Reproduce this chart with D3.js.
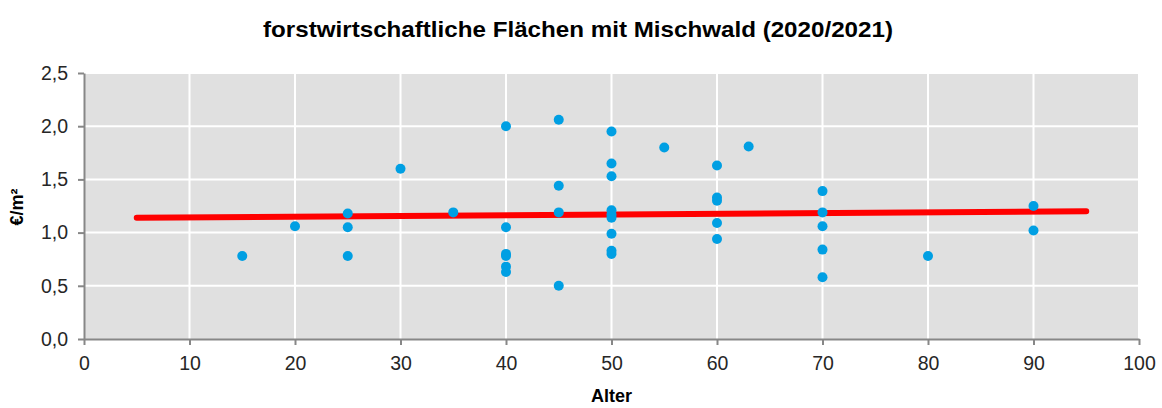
<!DOCTYPE html>
<html>
<head>
<meta charset="utf-8">
<script src="https://cdn.jsdelivr.net/npm/d3@7"></script>
<style>
  body { margin: 0; background: #fff; }
  text { font-family: "Liberation Sans", Arial, sans-serif; }
</style>
</head>
<body>
<div id="chart"></div>
<script>
// Scatter data: age (Alter) and price (€/m²)
var ageValues = [15, 20, 25, 25, 25, 30, 35,
                 40, 40, 40, 40, 40, 40,
                 45, 45, 45, 45,
                 50, 50, 50, 50, 50, 50, 50, 50, 50,
                 55, 60, 60, 60, 60, 60, 63,
                 70, 70, 70, 70, 70, 80, 90, 90];
var priceValues = [0.78, 1.06, 1.18, 1.05, 0.78, 1.60, 1.19,
                   2.00, 1.05, 0.80, 0.78, 0.68, 0.63,
                   2.06, 1.44, 1.19, 0.50,
                   1.95, 1.65, 1.53, 1.21, 1.17, 1.14, 0.99, 0.83, 0.80,
                   1.80, 1.63, 1.33, 1.30, 1.09, 0.94, 1.81,
                   1.39, 1.19, 1.06, 0.84, 0.58, 0.78, 1.25, 1.02];

// Trend line end points
var trendAge = [5, 95];
var trendPrice = [1.14, 1.20];

// Tick labels
var xTicks = [0, 10, 20, 30, 40, 50, 60, 70, 80, 90, 100];
var yTicks = [0, 0.5, 1.0, 1.5, 2.0, 2.5];

function init() {
    var w = 1162;
    var h = 408;
    var left = 84, right = 1139, top = 73, bottom = 339;

    var dataset = ageValues.map(function(a, i) { return { x: a, y: priceValues[i] }; });
    var trend = trendAge.map(function(a, i) { return { x: a, y: trendPrice[i] }; });

    var xScale = d3.scaleLinear().domain([0, 100]).range([left, right]);
    var yScale = d3.scaleLinear().domain([0, 2.5]).range([bottom, top]);

    var svg = d3.select("#chart")
        .append("svg")
        .attr("width", w)
        .attr("height", h);

    // Plot background
    svg.append("rect")
        .attr("x", left)
        .attr("y", top)
        .attr("width", right - left)
        .attr("height", bottom - top)
        .attr("fill", "#e0e0e0");

    // White grid lines
    svg.append("g")
        .selectAll("line.v")
        .data(xTicks.slice(1))
        .enter().append("line")
        .attr("x1", function(d) { return xScale(d); })
        .attr("x2", function(d) { return xScale(d); })
        .attr("y1", top)
        .attr("y2", bottom)
        .attr("stroke", "#fff")
        .attr("stroke-width", 2);

    svg.append("g")
        .selectAll("line.h")
        .data(yTicks.slice(1))
        .enter().append("line")
        .attr("x1", left)
        .attr("x2", right)
        .attr("y1", function(d) { return yScale(d); })
        .attr("y2", function(d) { return yScale(d); })
        .attr("stroke", "#fff")
        .attr("stroke-width", 2);

    var fmt = function(d) { return d3.format(".1f")(d).replace(".", ","); };

    // Axes
    var xAxis = d3.axisBottom(xScale).tickValues(xTicks).tickSize(6).tickSizeOuter(0).tickPadding(8);
    var yAxis = d3.axisLeft(yScale).tickValues(yTicks).tickSize(6).tickSizeOuter(0).tickPadding(10).tickFormat(fmt);

    var gx = svg.append("g")
        .attr("transform", "translate(0," + bottom + ")")
        .call(xAxis);
    var gy = svg.append("g")
        .attr("transform", "translate(" + left + ",0)")
        .call(yAxis);

    [gx, gy].forEach(function(g) {
        g.select(".domain").attr("stroke", "#878787").attr("stroke-width", 2);
        g.selectAll(".tick line").attr("stroke", "#878787").attr("stroke-width", 2);
        g.selectAll(".tick text")
            .attr("fill", "#262626")
            .style("font-size", "19.5px")
            .style("font-family", "Liberation Sans, Arial, sans-serif");
    });
    gx.selectAll(".tick text").attr("dy", "0.85em");

    // Trend line
    var line = d3.line()
        .x(function(d) { return xScale(d.x); })
        .y(function(d) { return yScale(d.y); });

    svg.append("path")
        .datum(trend)
        .attr("d", line)
        .attr("fill", "none")
        .attr("stroke", "#ff0000")
        .attr("stroke-width", 6)
        .attr("stroke-linecap", "round");

    // Points
    svg.append("g")
        .selectAll("circle")
        .data(dataset)
        .enter().append("circle")
        .attr("cx", function(d) { return xScale(d.x); })
        .attr("cy", function(d) { return yScale(d.y); })
        .attr("r", 5)
        .attr("fill", "#009fe3");

    // Title
    svg.append("text")
        .attr("x", 578)
        .attr("y", 37)
        .attr("text-anchor", "middle")
        .attr("textLength", 630)
        .attr("lengthAdjust", "spacingAndGlyphs")
        .style("font-size", "22px")
        .style("font-weight", "bold")
        .attr("fill", "#000")
        .text("forstwirtschaftliche Flächen mit Mischwald (2020/2021)");

    // Axis titles
    svg.append("text")
        .attr("x", (left + right) / 2)
        .attr("y", 402)
        .attr("text-anchor", "middle")
        .style("font-size", "18px")
        .style("font-weight", "bold")
        .text("Alter");

    svg.append("text")
        .attr("transform", "translate(23,207) rotate(-90)")
        .attr("text-anchor", "middle")
        .style("font-size", "18px")
        .style("font-weight", "bold")
        .text("€/m²");
}

window.onload = init;
</script>
</body>
</html>
